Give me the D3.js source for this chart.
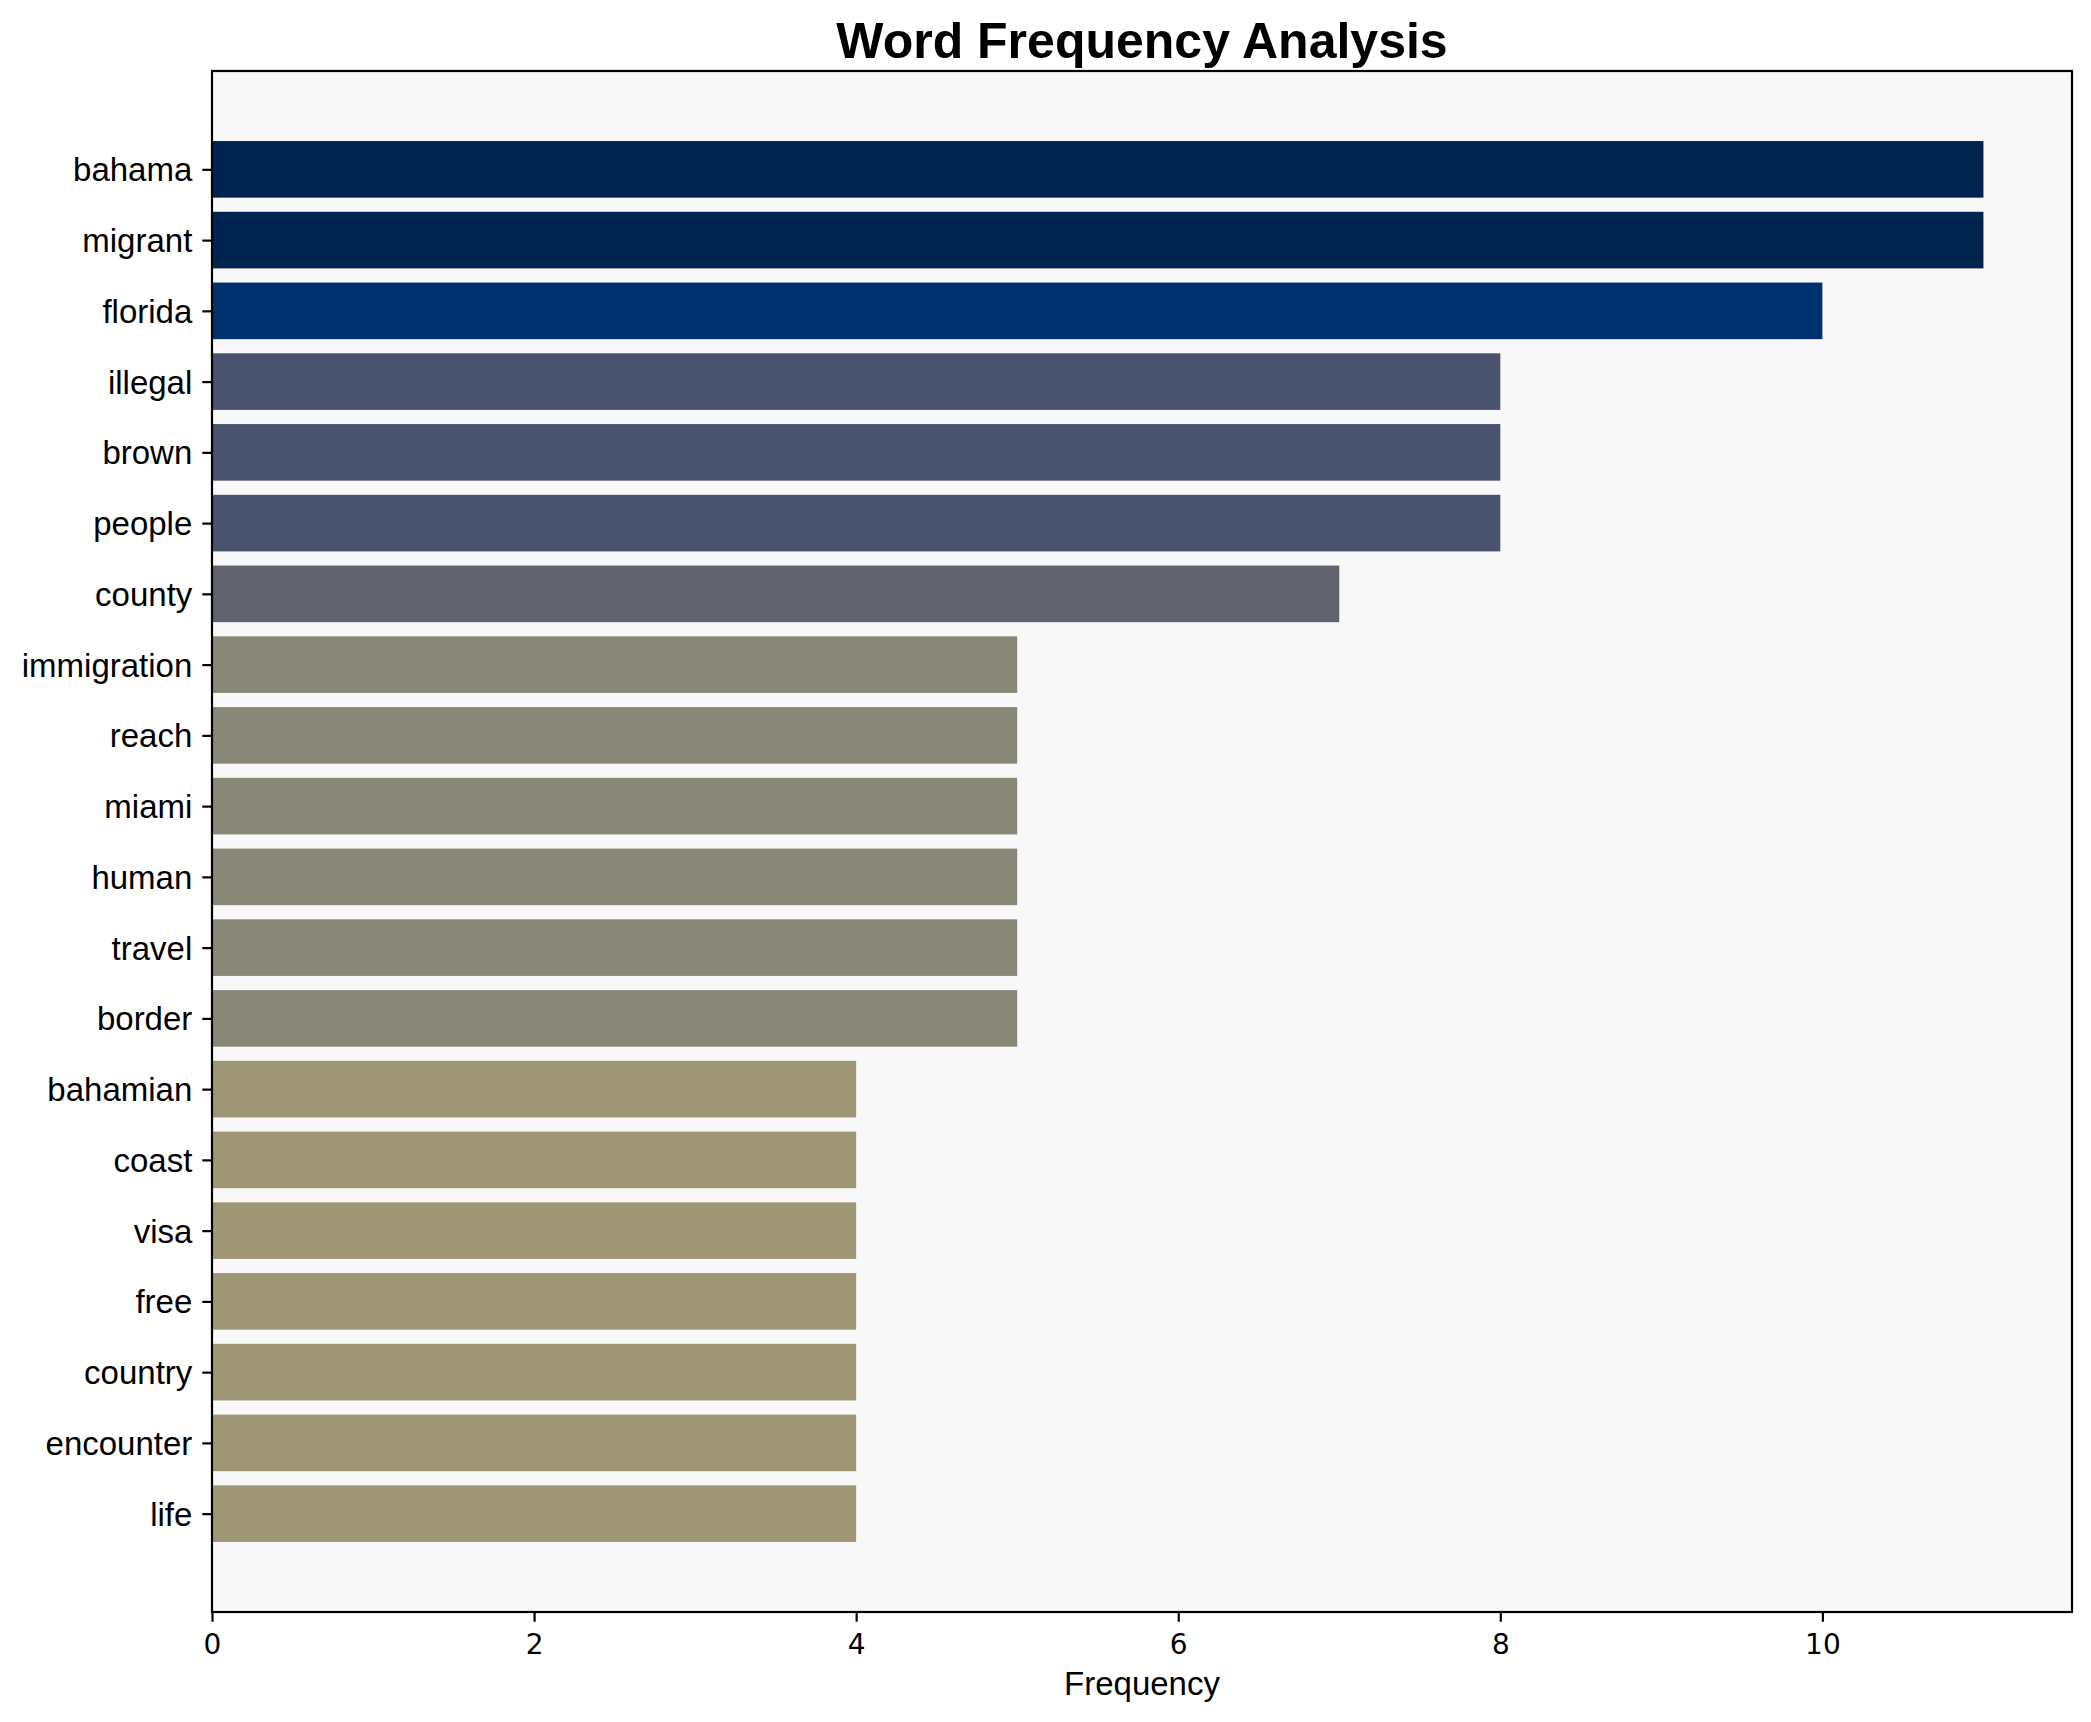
<!DOCTYPE html>
<html lang="en">
    <head>
        <meta charset="utf-8">
        <title>Word Frequency Analysis</title>
        <script src="https://d3js.org/d3.v7.min.js"></script>
        <style type="text/css">
            body{
                margin: 0;
                background: #ffffff;
            }
            svg{
                display: block;
            }
        </style>
    </head>
    <body>
        <svg></svg>
        <script type="text/javascript">

            const words = ["bahama", "migrant", "florida", "illegal", "brown", "people", "county",
                           "immigration", "reach", "miami", "human", "travel", "border",
                           "bahamian", "coast", "visa", "free", "country", "encounter", "life"];
            const counts = [11, 11, 10, 8, 8, 8, 7, 5, 5, 5, 5, 5, 5, 4, 4, 4, 4, 4, 4, 4];
            const xTicks = [0, 2, 4, 6, 8, 10];

            // colour per frequency level (cividis-like)
            const levels = [11, 10, 8, 7, 5, 4];
            const palette = ["#00224e", "#00316f", "#4a536e", "#60636e", "#898778", "#9e9674"];

            const width = 2091, height = 1722;
            const margin = {top: 71, right: 19, bottom: 110, left: 212};

            const svg = d3.select("svg")
                          .attr("width", width)
                          .attr("height", height);

            const dataset = words.map((w, i) => { return {"word": w, "count": counts[i], "pos": i}});

            const n = words.length;
            const barH = 0.8;
            const padY = 0.05 * (n - 1 + barH);

            const x = d3.scaleLinear()
                        .domain([0, d3.max(counts) * 1.05])
                        .range([margin.left, width - margin.right]);

            const y = d3.scaleLinear()
                        .domain([-barH / 2 - padY, n - 1 + barH / 2 + padY])
                        .range([margin.top, height - margin.bottom]);

            const color = d3.scaleOrdinal().domain(levels).range(palette);

            // plot background
            svg.append("rect")
               .attr("x", margin.left)
               .attr("y", margin.top)
               .attr("width", width - margin.left - margin.right)
               .attr("height", height - margin.top - margin.bottom)
               .style("fill", "#f8f8f8");

            svg.selectAll("rect.bar")
               .data(dataset)
               .join("rect")
               .attr("class", "bar")
               .attr("x", x(0))
               .attr("y", d => y(d.pos - barH / 2))
               .attr("width", d => x(d.count) - x(0))
               .attr("height", d => y(barH) - y(0))
               .style("fill", d => color(d.count));

            // x axis
            const xAxis = svg.append("g")
                             .attr("transform", `translate(0,${height - margin.bottom})`)
                             .call(d3.axisBottom(x).tickValues(xTicks).tickSize(9.7).tickPadding(0).tickFormat(d3.format("d")));
            xAxis.select(".domain").remove();
            xAxis.selectAll("line").style("stroke", "#000").style("stroke-width", 2.2);
            xAxis.selectAll("text")
                 .attr("y", 42)
                 .attr("dy", null)
                 .style("font-family", "'DejaVu Sans'")
                 .style("font-size", "28px")
                 .style("fill", "#000");

            // y axis
            const yAxis = svg.append("g")
                             .attr("transform", `translate(${margin.left},0)`)
                             .call(d3.axisLeft(y).tickValues(d3.range(n)).tickSize(9.7).tickPadding(10)
                                     .tickFormat(i => words[i]));
            yAxis.select(".domain").remove();
            yAxis.selectAll("line").style("stroke", "#000").style("stroke-width", 2.2);
            yAxis.selectAll("text")
                 .attr("dy", "0.35em")
                 .style("font-family", "'Liberation Sans', Arial, sans-serif")
                 .style("font-size", "33px")
                 .style("fill", "#000");

            // frame
            svg.append("rect")
               .attr("x", margin.left)
               .attr("y", margin.top)
               .attr("width", width - margin.left - margin.right)
               .attr("height", height - margin.top - margin.bottom)
               .style("fill", "none")
               .style("stroke", "#000")
               .style("stroke-width", 2.2);

            svg.append("text")
               .attr("x", (margin.left + width - margin.right) / 2)
               .attr("y", 58)
               .attr("text-anchor", "middle")
               .style("font-family", "'Liberation Sans', Arial, sans-serif")
               .style("font-weight", "bold")
               .style("font-size", "50px")
               .text("Word Frequency Analysis");

            svg.append("text")
               .attr("x", (margin.left + width - margin.right) / 2)
               .attr("y", 1695)
               .attr("text-anchor", "middle")
               .style("font-family", "'Liberation Sans', Arial, sans-serif")
               .style("font-size", "33px")
               .text("Frequency");

        </script>
    </body>
</html>
